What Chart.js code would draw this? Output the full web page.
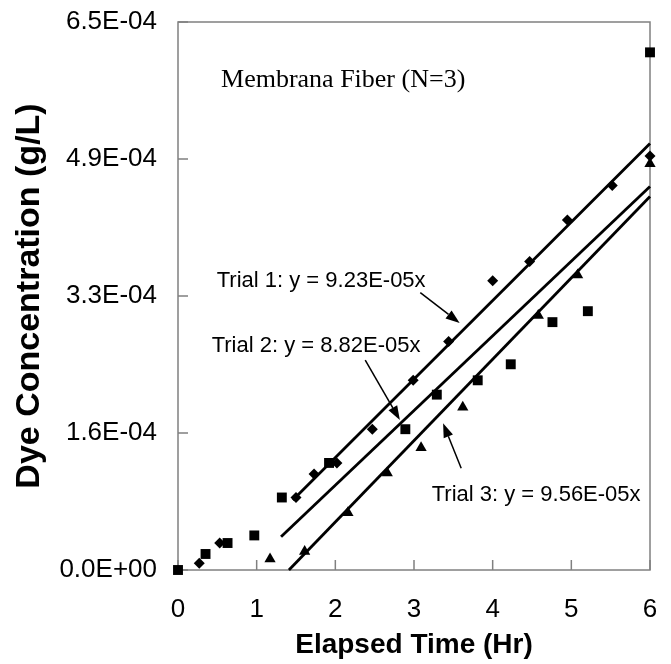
<!DOCTYPE html>
<html>
<head>
<meta charset="utf-8">
<script src="https://cdn.jsdelivr.net/npm/chart.js@4.4.1/dist/chart.umd.min.js"></script>
<style>
  html, body { margin: 0; padding: 0; background: #fff; }
  #wrap { width: 671px; height: 664px; }
</style>
</head>
<body>
<div id="wrap"><canvas id="dyeChart"></canvas></div>
<script>
// measured points (elapsed time in hr, concentration in g/L)
const trial1X = [0.27, 0.53, 1.50, 1.73, 2.02, 2.47, 2.99, 3.44, 4.00, 4.47, 4.95, 5.52, 6.00];
const trial1Y = [8e-6, 3.2e-5, 8.6e-5, 1.14e-4, 1.27e-4, 1.67e-4, 2.25e-4, 2.71e-4, 3.43e-4, 3.66e-4, 4.15e-4, 4.56e-4, 4.91e-4];

const trial2X = [0, 0.35, 0.63, 0.97, 1.32, 1.92, 2.89, 3.29, 3.81, 4.23, 4.76, 5.21, 6.00];
const trial2Y = [0, 1.9e-5, 3.2e-5, 4.1e-5, 8.6e-5, 1.27e-4, 1.67e-4, 2.08e-4, 2.25e-4, 2.44e-4, 2.94e-4, 3.07e-4, 6.14e-4];

const trial3X = [1.17, 1.61, 2.16, 2.66, 3.09, 3.62, 4.58, 5.08, 6.00];
const trial3Y = [1.3e-5, 2.2e-5, 6.8e-5, 1.15e-4, 1.45e-4, 1.93e-4, 3.02e-4, 3.50e-4, 4.82e-4];

// trend line end points as drawn
const fit1X = [1.46, 6.0];
const fit1Y = [8.3e-5, 5.06e-4];
const fit2X = [1.31, 6.0];
const fit2Y = [3.95e-5, 4.55e-4];
const fit3X = [1.41, 6.0];
const fit3Y = [0, 4.43e-4];

const yTickValues = [0, 1.625e-4, 3.25e-4, 4.875e-4, 6.5e-4];
const yTickLabels = ["0.0E+00", "1.6E-04", "3.3E-04", "4.9E-04", "6.5E-04"];

const sans = "Arial, 'Liberation Sans', sans-serif";

function pts(xs, ys) {
    return xs.map((x, i) => ({ x: x, y: ys[i] }));
}

// text notes and arrows, placed in data coordinates
const notes = [
    { text: "Membrana Fiber (N=3)", x: 0.547, y: 5.733e-4, font: "26px 'Liberation Serif', 'Times New Roman', serif" },
    { text: "Trial 1: y = 9.23E-05x", x: 0.492, y: 3.353e-4, font: "22px " + sans },
    { text: "Trial 2: y = 8.82E-05x", x: 0.428, y: 2.589e-4, font: "22px " + sans },
    { text: "Trial 3: y = 9.56E-05x", x: 3.225, y: 8.22e-5, font: "22px " + sans }
];
const arrows = [
    { from: [3.08, 3.29e-4], to: [3.58, 2.93e-4] },
    { from: [2.38, 2.49e-4], to: [2.82, 1.78e-4] },
    { from: [3.60, 1.206e-4], to: [3.37, 1.74e-4] }
];

const framePlugin = {
    id: "framePlugin",
    beforeDatasetsDraw(chart) {
        const { ctx, chartArea: a, scales } = chart;
        ctx.save();
        ctx.strokeStyle = "#808080";
        ctx.lineWidth = 1.5;
        ctx.strokeRect(a.left, a.top, a.right - a.left, a.bottom - a.top);
        ctx.beginPath();
        scales.x.ticks.forEach((t, i) => {
            const px = scales.x.getPixelForTick(i);
            ctx.moveTo(px, a.bottom);
            ctx.lineTo(px, a.bottom - 10);
        });
        scales.y.ticks.forEach((t, i) => {
            const py = scales.y.getPixelForTick(i);
            ctx.moveTo(a.left, py);
            ctx.lineTo(a.left + 10, py);
        });
        ctx.stroke();
        ctx.restore();
    },
    afterDatasetsDraw(chart) {
        const { ctx, scales } = chart;
        const sx = v => scales.x.getPixelForValue(v);
        const sy = v => scales.y.getPixelForValue(v);
        ctx.save();
        ctx.fillStyle = "#000";
        ctx.textAlign = "left";
        ctx.textBaseline = "alphabetic";
        notes.forEach(n => {
            ctx.font = n.font;
            ctx.fillText(n.text, sx(n.x), sy(n.y));
        });
        ctx.strokeStyle = "#000";
        ctx.lineWidth = 1.5;
        arrows.forEach(ar => {
            const x0 = sx(ar.from[0]), y0 = sy(ar.from[1]);
            const x1 = sx(ar.to[0]), y1 = sy(ar.to[1]);
            const ang = Math.atan2(y1 - y0, x1 - x0);
            const len = 14, half = 5;
            const bx = x1 - len * Math.cos(ang), by = y1 - len * Math.sin(ang);
            ctx.beginPath();
            ctx.moveTo(x0, y0);
            ctx.lineTo(bx, by);
            ctx.stroke();
            ctx.beginPath();
            ctx.moveTo(x1, y1);
            ctx.lineTo(bx + half * Math.sin(ang), by - half * Math.cos(ang));
            ctx.lineTo(bx - half * Math.sin(ang), by + half * Math.cos(ang));
            ctx.closePath();
            ctx.fill();
        });
        ctx.restore();
    }
};

function fitLine(xs, ys) {
    return {
        type: "line",
        data: pts(xs, ys),
        borderColor: "#000",
        borderWidth: 2.8,
        pointRadius: 0,
        fill: false,
        clip: false
    };
}

function markers(xs, ys, style, r) {
    return {
        type: "scatter",
        data: pts(xs, ys),
        pointStyle: style,
        pointRadius: r,
        pointBackgroundColor: "#000",
        pointBorderColor: "#000",
        pointBorderWidth: 0,
        clip: false
    };
}

new Chart(document.getElementById("dyeChart"), {
    type: "scatter",
    data: {
        datasets: [
            fitLine(fit1X, fit1Y),
            fitLine(fit2X, fit2Y),
            fitLine(fit3X, fit3Y),
            markers(trial1X, trial1Y, "rectRot", 5.5),
            markers(trial2X, trial2Y, "rect", 7),
            markers(trial3X, trial3Y, "triangle", 6.5)
        ]
    },
    options: {
        responsive: true,
        maintainAspectRatio: false,
        animation: false,
        layout: { padding: { top: 22, right: 21, bottom: 0, left: 0 } },
        plugins: {
            legend: { display: false },
            tooltip: { enabled: false }
        },
        scales: {
            x: {
                type: "linear",
                min: 0,
                max: 6,
                grid: { display: false, drawTicks: false },
                border: { display: false },
                ticks: {
                    stepSize: 1,
                    color: "#000",
                    padding: 24,
                    font: { family: sans, size: 26 }
                },
                title: {
                    display: true,
                    text: "Elapsed Time (Hr)",
                    color: "#000",
                    font: { family: sans, size: 28, weight: "bold", lineHeight: 1 },
                    padding: { top: 0, bottom: 5 }
                },
                afterFit(scale) {
                    scale.height = 94;
                    scale.paddingLeft = 0;
                    scale.paddingRight = 0;
                }
            },
            y: {
                type: "linear",
                min: 0,
                max: 6.5e-4,
                grid: { display: false, drawTicks: false },
                border: { display: false },
                afterBuildTicks(scale) {
                    scale.ticks = yTickValues.map(v => ({ value: v }));
                },
                ticks: {
                    color: "#000",
                    padding: 21,
                    font: { family: sans, size: 26 },
                    callback: (value, index) => yTickLabels[index]
                },
                title: {
                    display: true,
                    text: "Dye Concentration (g/L)",
                    color: "#000",
                    font: { family: sans, size: 34, weight: "bold", lineHeight: 1 },
                    padding: { top: 13, bottom: 0 }
                },
                afterFit(scale) {
                    scale.width = 178;
                    scale.paddingTop = 0;
                    scale.paddingBottom = 0;
                }
            }
        }
    },
    plugins: [framePlugin]
});
</script>
</body>
</html>
